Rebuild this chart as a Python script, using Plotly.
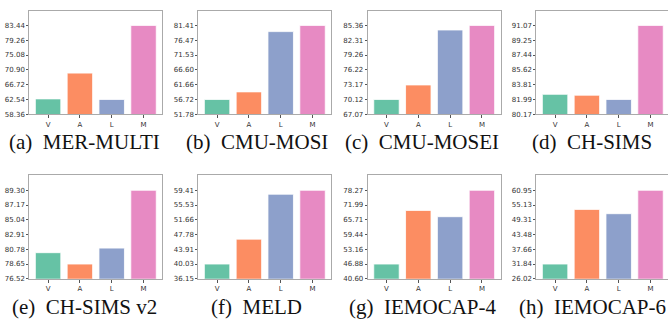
import numpy as np
import plotly.graph_objects as go

datasets = ["MER-MULTI", "CMU-MOSI", "CMU-MOSEI", "CH-SIMS",
            "CH-SIMS v2", "MELD", "IEMOCAP-4", "IEMOCAP-6"]
letters = ["a", "b", "c", "d", "e", "f", "g", "h"]
modalities = ["V", "A", "L", "M"]
V_vals = [62.70, 56.72, 70.12, 82.62, 80.29, 40.03, 46.88, 31.84]
A_vals = [69.97, 59.24, 73.10, 82.51, 78.65, 46.57, 69.69, 53.40]
L_vals = [62.54, 79.33, 84.41, 81.99, 80.95, 58.37, 67.02, 51.70]
M_vals = [83.44, 81.41, 85.36, 91.07, 89.30, 59.41, 78.27, 60.95]
colors = ["#66c2a5", "#fc8d62", "#8da0cb", "#e78ac3"]

W, H = 668, 322
col_left = [29.3, 198.3, 367.7, 536.3]
pw = 133.0
row_top = [10.7, 177.7]
row_bot = [115.7, 282.3]
cap_x = [84, 256.7, 422.3, 592]
cap_y = [143.5, 311.2]

fig = go.Figure()
annotations = []
for i in range(8):
    r, c = divmod(i, 4)
    vals = [V_vals[i], A_vals[i], L_vals[i], M_vals[i]]
    lo, hi = min(vals), max(vals)
    step = (hi - lo) / 5
    ticks = [lo - step + k * step for k in range(7)]
    xa = "x" if i == 0 else f"x{i+1}"
    ya = "y" if i == 0 else f"y{i+1}"
    fig.add_trace(go.Bar(x=list(range(4)), y=vals, xaxis=xa, yaxis=ya,
                         marker=dict(color=colors, line=dict(color="white", width=0.8)),
                         width=0.8, showlegend=False, hoverinfo="skip"))
    x0 = col_left[c]
    x1 = x0 + pw
    xmax_range = 3.59
    if x1 > W:
        frac = (W - x0) / pw
        xmax_range = -0.59 + 4.18 * frac
        x1 = W
    key = "" if i == 0 else str(i + 1)
    fig.layout["xaxis" + key] = dict(
        domain=[x0 / W, x1 / W], anchor=ya, range=[-0.59, xmax_range],
        tickmode="array", tickvals=list(range(4)), ticktext=modalities,
        ticks="outside", ticklen=3, tickcolor="#555", tickwidth=0.8,
        showline=True, linecolor="#aaaaaa", linewidth=1, mirror=True,
        showgrid=False, zeroline=False,
        tickfont=dict(family="DejaVu Sans", size=7, color="#333"), fixedrange=True)
    fig.layout["yaxis" + key] = dict(
        domain=[1 - row_bot[r] / H, 1 - row_top[r] / H], anchor=xa,
        range=[lo - step, hi + step],
        tickmode="array", tickvals=ticks, ticktext=[f"{t:.2f}" for t in ticks],
        ticks="outside", ticklen=2, tickcolor="#555", tickwidth=0.8,
        showline=True, linecolor="#aaaaaa", linewidth=1,
        mirror=(x1 < W), showgrid=False, zeroline=False,
        tickfont=dict(family="DejaVu Sans", size=7, color="#333"), fixedrange=True)
    annotations.append(dict(
        text=f"({letters[i]})\u00a0\u00a0{datasets[i]}", xref="paper", yref="paper",
        x=cap_x[c] / W, y=1 - cap_y[r] / H, xanchor="center", yanchor="middle",
        showarrow=False, font=dict(family="Liberation Serif", size=21, color="#111")))

fig.update_layout(width=W, height=H, margin=dict(l=0, r=0, t=0, b=0),
                  paper_bgcolor="white", plot_bgcolor="white",
                  annotations=annotations, bargap=0.2)
fig.write_html("out.html", config={"displayModeBar": False},
               post_script="document.body.style.margin='0';document.body.style.overflow='hidden';")
